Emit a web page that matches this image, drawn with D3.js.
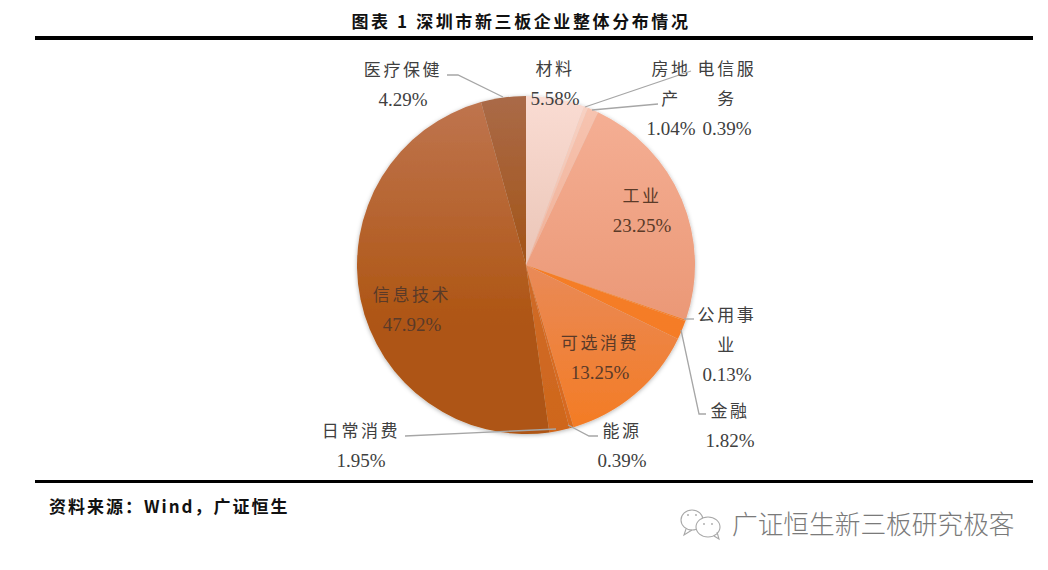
<!DOCTYPE html>
<html>
<head>
<meta charset="utf-8">
<script src="https://cdn.jsdelivr.net/npm/d3@7"></script>
<style>
  html, body { margin: 0; padding: 0; background: #fff; }
  svg { display: block; }
</style>
</head>
<body>
<svg id="chart"></svg>
<script>
  // data, clockwise from twelve o'clock
  const sectors = ["材料", "电信服务", "房地产", "工业", "公用事业", "金融", "可选消费", "能源", "日常消费", "信息技术", "医疗保健"];
  const shares = [5.58, 0.39, 1.04, 23.25, 0.13, 1.82, 13.25, 0.39, 1.95, 47.92, 4.29];
  const titleText = "图表 1 深圳市新三板企业整体分布情况";
  const sourceText = "资料来源：Wind，广证恒生";
  const watermarkText = "广证恒生新三板研究极客";

  // colour of each slice at the top and bottom of its gradient, and where the gradient runs
  const topColors = ["#fadcd3", "#f8d2c4", "#f7c5b2", "#f5b096", "#f4853a", "#f5812f", "#e98a58", "#d8743a", "#cf7034", "#bf7550", "#aa6a48"];
  const bottomColors = ["#e9c3b4", "#f0b9a4", "#f0ae94", "#e68c66", "#f57a22", "#f57a22", "#f47b22", "#d86a1e", "#cf661c", "#ae5512", "#a25212"];
  const gradientStart = [0, 0, 0, 0, 0, 0, 50, 0, 0, 0, 0];
  const gradientEnd = [55, 55, 55, 100, 100, 100, 100, 100, 100, 68, 55];

  // text block and leader end for each label
  const labelLayout = [
    { lines: ["材料", "5.58%"], x: 555, y: 69 },
    { lines: ["电信服", "务", "0.39%"], x: 727, y: 69, leader: [[585, 107], [691, 71], [691, 71]] },
    { lines: ["房地", "产", "1.04%"], x: 671, y: 69, leader: [[592, 110], [658, 104], [658, 104]] },
    { lines: ["工业"], x: 642, y: 196 },
    { lines: ["公用事", "业", "0.13%"], x: 727, y: 315, leader: [[684, 319], [694, 319], [694, 319]] },
    { lines: ["金融", "1.82%"], x: 730, y: 411, leader: [[681, 330], [699, 414], [706, 414]] },
    { lines: ["可选消费", "13.25%"], x: 600, y: 343 },
    { lines: ["能源", "0.39%"], x: 622, y: 431, leader: [[568, 425], [589, 436], [598, 436]] },
    { lines: ["日常消费", "1.95%"], x: 361, y: 431, leader: [[556, 429], [405, 436], [405, 436]] },
    { lines: ["信息技术", "47.92%"], x: 412, y: 295 },
    { lines: ["医疗保健", "4.29%"], x: 403, y: 70, leader: [[503, 97], [458, 75], [447, 75]] }
  ];

  const dimensions = { width: 1048, height: 570, cx: 526, cy: 265, radius: 169, lineHeight: 29.5 };
  const cjkFont = "'Noto Sans CJK SC', sans-serif";
  const numFont = "'Liberation Serif', serif";

  const svg = d3.select("#chart")
    .attr("width", dimensions.width)
    .attr("height", dimensions.height)
    .attr("viewBox", [0, 0, dimensions.width, dimensions.height]);

  const defs = svg.append("defs");

  const shadow = defs.append("filter").attr("id", "pieShadow")
    .attr("x", "-10%").attr("y", "-10%").attr("width", "120%").attr("height", "120%");
  shadow.append("feGaussianBlur").attr("in", "SourceAlpha").attr("stdDeviation", 2);
  shadow.append("feOffset").attr("dy", 1).attr("result", "blur");
  shadow.append("feFlood").attr("flood-color", "#000").attr("flood-opacity", 0.3);
  shadow.append("feComposite").attr("in2", "blur").attr("operator", "in");
  const merge = shadow.append("feMerge");
  merge.append("feMergeNode");
  merge.append("feMergeNode").attr("in", "SourceGraphic");

  // vertical gradients share the pie's box, so the shading runs across slices
  sectors.forEach((s, i) => {
    const grad = defs.append("linearGradient")
      .attr("id", "slice" + i)
      .attr("gradientUnits", "userSpaceOnUse")
      .attr("x1", 0).attr("x2", 0)
      .attr("y1", -dimensions.radius).attr("y2", dimensions.radius);
    grad.append("stop").attr("offset", gradientStart[i] + "%").attr("stop-color", topColors[i]);
    grad.append("stop").attr("offset", gradientEnd[i] + "%").attr("stop-color", bottomColors[i]);
  });

  /* rules */
  svg.append("rect").attr("x", 35).attr("y", 36).attr("width", 998).attr("height", 4).attr("fill", "#000");
  svg.append("rect").attr("x", 35).attr("y", 480).attr("width", 998).attr("height", 3).attr("fill", "#000");

  /* title and source */
  svg.append("text").attr("x", 521).attr("y", 28)
    .attr("text-anchor", "middle")
    .attr("font-family", cjkFont).attr("font-size", 17).attr("font-weight", 700)
    .attr("letter-spacing", 2.6)
    .attr("fill", "#111").text(titleText);

  svg.append("text").attr("x", 49).attr("y", 513)
    .attr("font-family", cjkFont).attr("font-size", 17).attr("font-weight", 700)
    .attr("letter-spacing", 2)
    .attr("fill", "#111").text(sourceText);

  /* pie */
  const pie = d3.pie().sort(null).value((d) => d);
  const arc = d3.arc().innerRadius(0).outerRadius(dimensions.radius);

  svg.append("g")
    .attr("transform", `translate(${dimensions.cx},${dimensions.cy})`)
    .attr("filter", "url(#pieShadow)")
    .selectAll("path")
    .data(pie(shares))
    .join("path")
    .attr("d", arc)
    .attr("fill", (d, i) => `url(#slice${i})`);

  /* leaders */
  const line = d3.line();
  svg.append("g")
    .selectAll("path")
    .data(labelLayout.filter((d) => d.leader))
    .join("path")
    .attr("d", (d) => line(d.leader))
    .attr("fill", "none")
    .attr("stroke", "#a6a6a6")
    .attr("stroke-width", 1.3);

  /* labels */
  const isNumber = (t) => t.endsWith("%");
  const labels = svg.append("g").selectAll("g")
    .data(labelLayout)
    .join("g")
    .attr("transform", (d) => `translate(${d.x},${d.y})`);

  labels.selectAll("text")
    .data((d, i) => {
      const rows = d.lines.map((t) => ({ t, dark: i === 9 || i === 6 || i === 3 }));
      if (i === 3) rows.push({ t: shares[3].toFixed(2) + "%", dark: true });
      return rows;
    })
    .join("text")
    .attr("y", (d, i) => i * dimensions.lineHeight)
    .attr("dy", "0.36em")
    .attr("text-anchor", "middle")
    .attr("font-family", (d) => (isNumber(d.t) ? numFont : cjkFont))
    .attr("font-size", (d) => (isNumber(d.t) ? 19 : 17))
    .attr("letter-spacing", (d) => (isNumber(d.t) ? 0 : 2.6))
    .attr("fill", (d) => (d.dark ? "#5a3a28" : "#404040"))
    .text((d) => d.t);

  /* watermark */
  const mark = svg.append("g").attr("fill", "none").attr("stroke", "#a8a8a8").attr("stroke-width", 1.1);
  mark.append("ellipse").attr("cx", 692).attr("cy", 520).attr("rx", 11).attr("ry", 10);
  mark.append("ellipse").attr("cx", 708).attr("cy", 527).attr("rx", 12).attr("ry", 10).attr("fill", "#fff");
  mark.append("path").attr("d", "M686 529 L684 535 L692 530");
  mark.append("path").attr("d", "M714 536 L719 539 L717 532");
  [[688, 515], [696, 515], [704, 524], [712, 524]].forEach(([x, y]) => {
    mark.append("circle").attr("cx", x).attr("cy", y).attr("r", 0.9).attr("fill", "#a8a8a8").attr("stroke", "none");
  });
  svg.append("text").attr("x", 732).attr("y", 534)
    .attr("font-family", cjkFont).attr("font-size", 25.7).attr("font-weight", 300)
    .attr("fill", "#7a7a7a").text(watermarkText);
</script>
</body>
</html>
